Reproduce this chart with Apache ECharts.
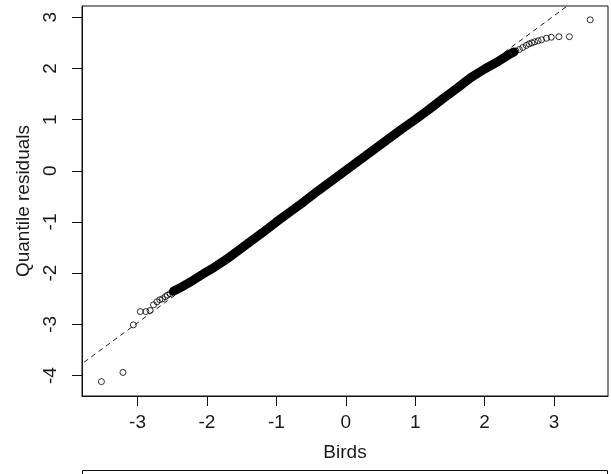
<!DOCTYPE html>
<html>
<head>
<meta charset="utf-8">
<script src="https://cdn.jsdelivr.net/npm/echarts@6/dist/echarts.min.js"></script>
<style>
  html, body { margin: 0; padding: 0; background: #fff; }
  #chart { width: 611px; height: 474px; }
</style>
</head>
<body>
<div id="chart"></div>
<script>
// Tick positions on both axes
const xTicks = [-3, -2, -1, 0, 1, 2, 3];
const yTicks = [-4, -3, -2, -1, 0, 1, 2, 3];

// Dense central run of quantile residuals (theoretical, sample)
const bandPoints = [
  [-2.48, -2.35], [-2.35, -2.26], [-2.2, -2.14], [-2.05, -2.01], [-1.9, -1.89],
  [-1.72, -1.73], [-1.55, -1.56], [-1.4, -1.41], [-1.2, -1.21], [-1.0, -1.0],
  [-0.8, -0.8], [-0.6, -0.6], [-0.4, -0.39], [-0.2, -0.19], [0.0, 0.01],
  [0.2, 0.21], [0.4, 0.41], [0.6, 0.61], [0.8, 0.81], [1.0, 1.0],
  [1.2, 1.2], [1.4, 1.41], [1.6, 1.61], [1.8, 1.82], [2.0, 1.99],
  [2.2, 2.14], [2.35, 2.27], [2.42, 2.32]
];

// Sparse lower tail
const lowerTail = [
  [-3.52, -4.12], [-3.21, -3.94], [-3.06, -3.01], [-2.96, -2.75], [-2.88, -2.75],
  [-2.82, -2.73], [-2.77, -2.62], [-2.72, -2.56], [-2.68, -2.52], [-2.64, -2.5],
  [-2.6, -2.46], [-2.57, -2.43], [-2.53, -2.4], [-2.5, -2.37]
];

// Sparse upper tail
const upperTail = [
  [2.45, 2.34], [2.5, 2.37], [2.55, 2.41], [2.6, 2.45], [2.64, 2.48],
  [2.68, 2.5], [2.72, 2.52], [2.77, 2.54], [2.82, 2.56], [2.89, 2.59],
  [2.96, 2.61], [3.07, 2.62], [3.22, 2.62], [3.52, 2.95]
];

// Reference line through the quartiles
const refLine = [[-4.5, -4.47], [4.5, 4.53]];

const textColor = '#1a1a1a';
const font = 'Liberation Sans, Arial, sans-serif';
const fontSize = 19;

const chart = echarts.init(document.getElementById('chart'), null, { renderer: 'canvas' });
chart.setOption({
  animation: false,
  backgroundColor: '#fff',
  grid: {
    left: 82, top: 6, right: 3, bottom: 78,
    show: true, borderColor: '#111', borderWidth: 1, backgroundColor: 'transparent'
  },
  xAxis: {
    type: 'value', min: -3.8, max: 3.777,
    name: 'Birds', nameLocation: 'middle', nameGap: 47,
    nameTextStyle: { color: textColor, fontSize: fontSize, fontFamily: font },
    axisLine: { show: true, onZero: false, lineStyle: { color: '#111', width: 1 } },
    axisTick: { show: true, length: 10, inside: false, customValues: xTicks, lineStyle: { color: '#111', width: 1 } },
    axisLabel: { show: true, customValues: xTicks, margin: 17, color: textColor, fontSize: fontSize, fontFamily: font },
    splitLine: { show: false }
  },
  yAxis: {
    type: 'value', min: -4.4, max: 3.22,
    name: 'Quantile residuals', nameLocation: 'middle', nameGap: 49,
    nameTextStyle: { color: textColor, fontSize: fontSize, fontFamily: font },
    axisLine: { show: true, onZero: false, lineStyle: { color: '#111', width: 1 } },
    axisTick: { show: true, length: 10, inside: false, customValues: yTicks, lineStyle: { color: '#111', width: 1 } },
    axisLabel: { show: true, customValues: yTicks, rotate: 90, margin: 22, color: textColor, fontSize: fontSize, fontFamily: font },
    splitLine: { show: false }
  },
  graphic: [{
    type: 'rect', silent: true,
    shape: { x: 82.5, y: 470.5, width: 525, height: 30 },
    style: { fill: 'none', stroke: '#111', lineWidth: 1 }
  }],
  series: [
    {
      type: 'line', data: refLine, symbol: 'none', clip: true, silent: true,
      lineStyle: { color: '#222', width: 1, type: [5, 4] }
    },
    {
      type: 'line', data: bandPoints, symbol: 'none', clip: true, silent: true,
      lineStyle: { color: '#000', width: 9, cap: 'round', join: 'round' }
    },
    {
      type: 'scatter', data: lowerTail.concat(upperTail), symbol: 'circle', symbolSize: 6,
      clip: true, silent: true,
      itemStyle: { color: 'rgba(0,0,0,0)', borderColor: '#000', borderWidth: 1 }
    }
  ]
});
</script>
</body>
</html>
